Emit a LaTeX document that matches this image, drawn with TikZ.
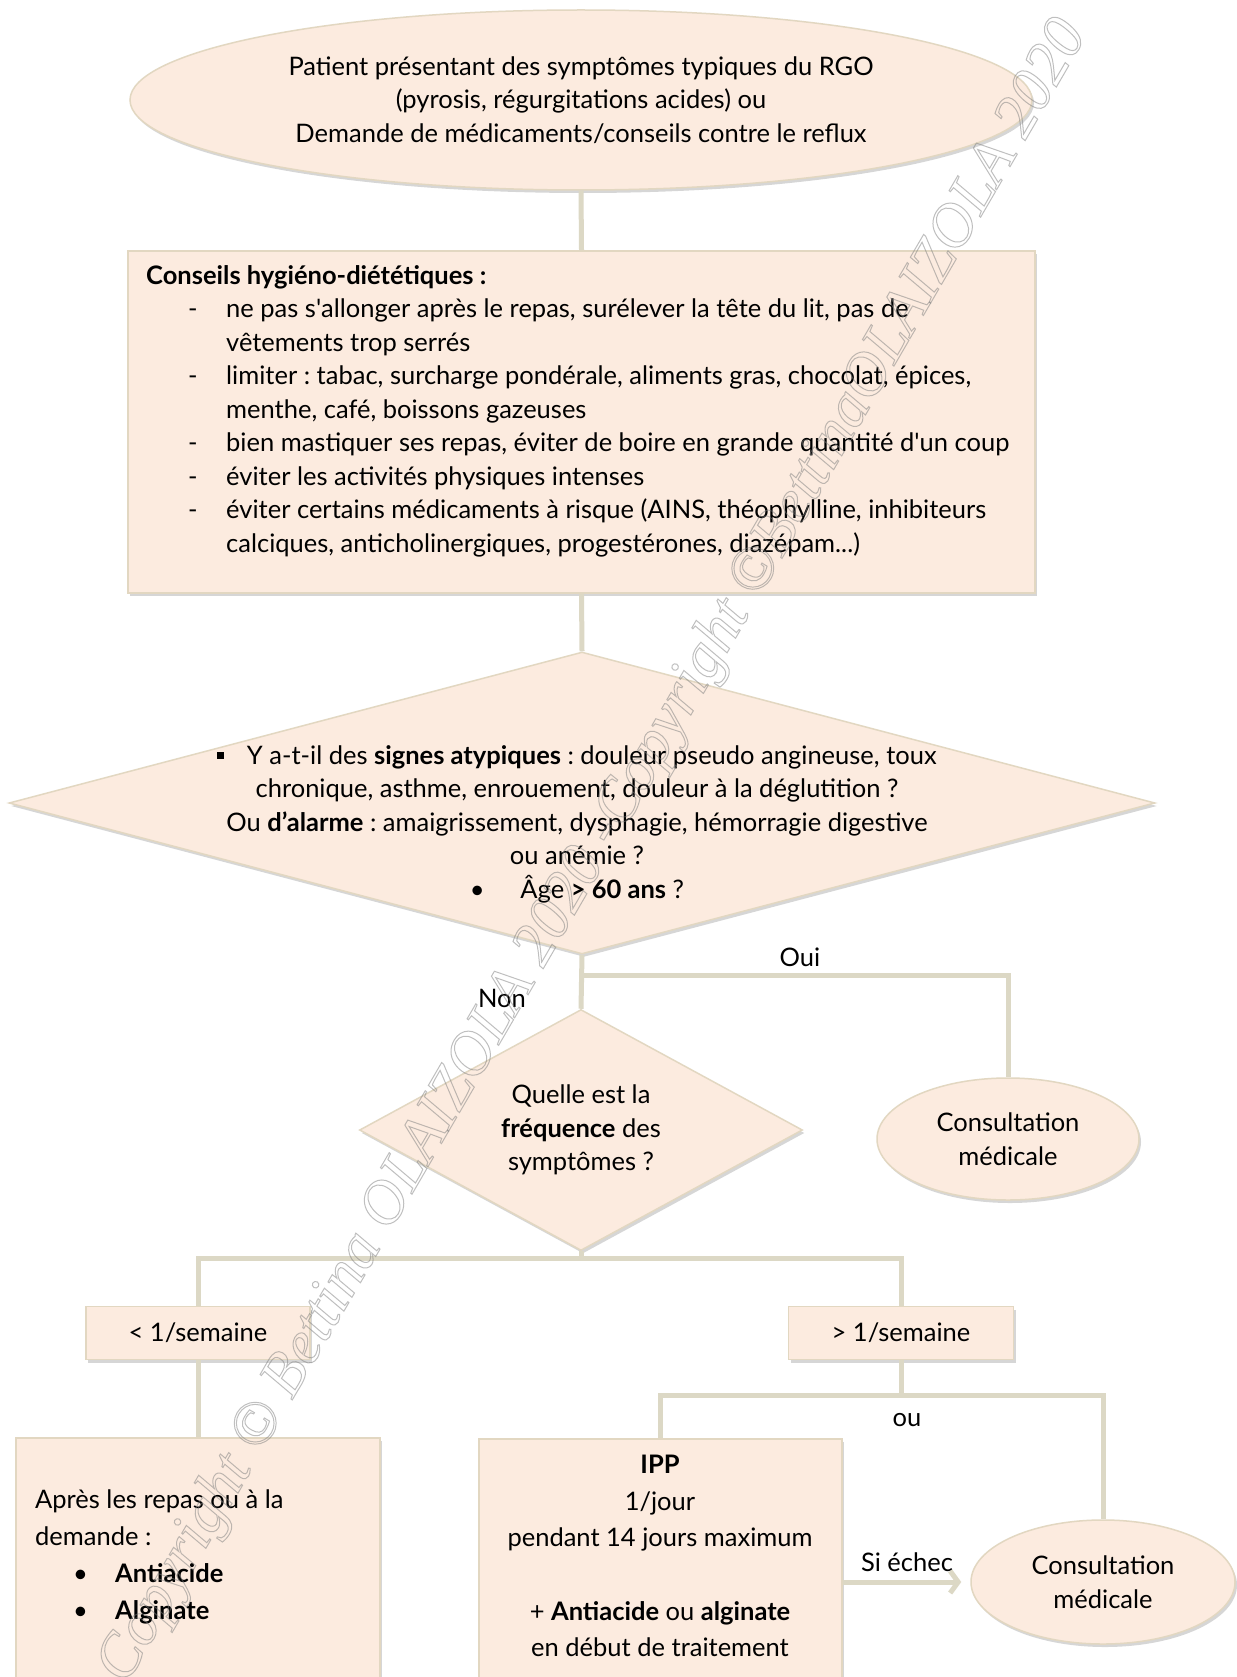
\documentclass[tikz,border=0pt]{standalone}
\usepackage{fontspec}
\setmainfont{Lato}
\newfontfamily\wmfont{Liberation Serif}
\usetikzlibrary{shapes.geometric,shadows,arrows.meta}
\definecolor{rgofill}{HTML}{FCEBDF}
\definecolor{rgoedge}{HTML}{E2D7C1}
\definecolor{rgolink}{HTML}{DCD8C5}

\newcommand{\tiret}{\makebox[80pt][l]{\hspace{42pt}-}}
\newcommand{\retrait}{\hspace*{80pt}}
\newcommand{\puce}{\makebox[80pt][l]{\hspace{38pt}•}}

\begin{document}
\frenchspacing
\begin{tikzpicture}[x=1pt,y=-1pt,
  every node/.style={font=\fontsize{25.5}{33.5}\selectfont, inner sep=0pt},
  forme/.style={draw=rgoedge, fill=rgofill, line width=1.5pt,
    drop shadow={shadow xshift=2pt, shadow yshift=-3pt, opacity=.35, fill=black!45}},
  bulle/.style={forme, ellipse, align=center},
  losange/.style={forme, diamond},
  cadre/.style={forme, rectangle},
  link/.style={draw=rgolink, line width=5pt}]
\useasboundingbox[fill=white] (0,0) rectangle (1236,1677);

\node[bulle, minimum width=902pt, minimum height=180pt] (start) at (581,100)
  {Patient présentant des symptômes typiques du RGO\\(pyrosis, régurgitations acides) ou\\Demande de médicaments/conseils contre le reflux};

\node[cadre, minimum width=907pt, minimum height=342pt] (conseils) at (581.5,422) {};
\node[anchor=west, align=left] (conseilstxt) at (146,411)
  {\textbf{Conseils hygiéno-diététiques :}\\
   \tiret ne pas s\textquotesingle allonger après le repas, surélever la tête du lit, pas de\\
   \retrait vêtements trop serrés\\
   \tiret limiter : tabac, surcharge pondérale, aliments gras, chocolat, épices,\\
   \retrait menthe, café, boissons gazeuses\\
   \tiret bien mastiquer ses repas, éviter de boire en grande quantité d\textquotesingle un coup\\
   \tiret éviter les activités physiques intenses\\
   \tiret éviter certains médicaments à risque (AINS, théophylline, inhibiteurs\\
   \retrait calciques, anticholinergiques, progestérones, diazépam...)};

\node[losange, minimum width=1146pt, minimum height=302pt] (signes) at (582,803) {};
\node[align=center] (signestxt) at (577,824)
  {\rule[0.2em]{0.26em}{0.26em}\hspace{0.9em}Y a-t-il des \textbf{signes atypiques} : douleur pseudo angineuse, toux\\
   chronique, asthme, enrouement, douleur à la déglutition ?\\
   Ou \textbf{d’alarme} : amaigrissement, dysphagie, hémorragie digestive\\
   ou anémie ?\\
   •\hspace{1.4em}Âge \textbf{> 60 ans} ?};

\node[losange, shape aspect=1.84, minimum width=443pt, minimum height=241pt, align=center] (frequence) at (581,1130)
  {Quelle est la\\\textbf{fréquence} des\\symptômes ?};
\node[bulle, minimum width=262pt, minimum height=122pt] (consult1) at (1008,1139) {Consultation\\médicale};

\node[cadre, minimum width=224pt, minimum height=53pt] (rare) at (198,1333) {< 1/semaine};
\node[cadre, minimum width=225pt, minimum height=53pt] (frequent) at (901,1333) {> 1/semaine};

\node[cadre, anchor=north, minimum width=364pt, minimum height=320pt] (ponctuel) at (198,1437) {};
\node[anchor=west, align=left, font=\fontsize{25.5}{37}\selectfont] (ponctueltxt) at (35,1557)
  {Après les repas ou à la\\demande :\\\puce\textbf{Antiacide}\\\puce\textbf{Alginate}};

\node[cadre, anchor=north, minimum width=363pt, minimum height=320pt] (ipp) at (660.5,1438) {};
\node[align=center, font=\fontsize{25.5}{36.6}\selectfont] (ipptxt) at (660,1556)
  {\textbf{IPP}\\1/jour\\pendant 14 jours maximum\\[36.6pt]+ \textbf{Antiacide} ou \textbf{alginate}\\en début de traitement};

\node[bulle, minimum width=264pt, minimum height=124pt] (consult2) at (1103,1582) {Consultation\\médicale};

\node (oui) at (800,957) {Oui};
\node (non) at (502,998) {Non};
\node (ou) at (907,1420) {ou};
\node (echec) at (907,1562) {Si échec};

\coordinate (jsignes) at (582,975);
\coordinate (jfreq) at (581,1258);
\coordinate (jipp) at (901,1395);

\draw[link] (start.south) -- (conseils.north);
\draw[link] (conseils.south) -- (signes.north);
\draw[link] (signes.south) -- (frequence.north);
\draw[link] (jsignes) -| (consult1.north);
\draw[link] (frequence.south) -- (jfreq);
\draw[link] (rare.north) |- (jfreq) -| (frequent.north);
\draw[link] (rare.south) -- (ponctuel.north);
\draw[link] (frequent.south) -- (jipp);
\draw[link] (ipp.north) |- (jipp) -| (consult2.north);
\draw[link, -{Straight Barb[length=8pt,width=22pt]}, shorten >=9pt] (ipp.east |- consult2.west) -- (consult2.west);

\node[rotate=59.8, text=gray, opacity=.5] (filigrane) at (594,852)
  {\wmfont\itshape\fontsize{62}{62}\selectfont\special{pdf:literal direct 1 Tr 1 w}Copyright © Bettina OLAIZOLA 2020 -Copyright ©BettinaOLAIZOLA 2020\special{pdf:literal direct 0 Tr}};
\end{tikzpicture}
\end{document}
